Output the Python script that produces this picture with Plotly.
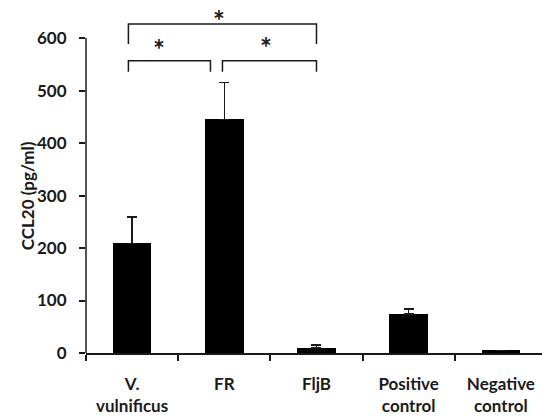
import plotly.graph_objects as go

categories = ["V.<br>vulnificus", "FR", "FljB", "Positive<br>control", "Negative<br>control"]
values = [209, 445, 10, 74, 5]
errors = [50, 70, 5, 10, 0]
y_ticks = [0, 100, 200, 300, 400, 500, 600]

# significance brackets: (x start, x end, y of bar, y of legs end)
br_x0 = [-0.04, -0.04, 0.98]
br_x1 = [2.0, 0.85, 2.0]
br_top = [627, 557, 557]
br_leg = [589, 536, 536]
star_x = [0.94, 0.29, 1.45]
star_y = [635, 579, 584]

FONT = "Lato"
INK = "#1a1a1a"

fig = go.Figure()
fig.add_trace(go.Bar(
    x=categories, y=values, width=0.42,
    marker=dict(color="black", line=dict(width=0)),
    error_y=dict(type="data", array=errors, arrayminus=[0]*len(errors), symmetric=False,
                 color=INK, thickness=1.5, width=5),
))

shapes = []
# y axis line 0..600
shapes.append(dict(type="line", xref="paper", yref="y", x0=0, x1=0, y0=0, y1=y_ticks[-1],
                   line=dict(color=INK, width=1.5)))
for a, b, t, l in zip(br_x0, br_x1, br_top, br_leg):
    shapes.append(dict(type="path", xref="x", yref="y",
                       path=f"M {a},{l} L {a},{t} L {b},{t} L {b},{l}",
                       line=dict(color=INK, width=1.5)))

annotations = []
for sx, sy in zip(star_x, star_y):
    annotations.append(dict(x=sx, y=sy, xref="x", yref="y", text="<b>*</b>", showarrow=False,
                            font=dict(family=FONT, size=28, color=INK), yanchor="middle"))
annotations.append(dict(x=-0.128, y=300, xref="paper", yref="y", text="<b>CCL20 (pg/ml)</b>",
                        textangle=-90, showarrow=False, xanchor="center", yanchor="middle",
                        font=dict(family=FONT, size=17, color=INK)))

fig.update_layout(
    width=542, height=417,
    margin=dict(l=86, r=0, t=4, b=64),
    plot_bgcolor="white", paper_bgcolor="white",
    showlegend=False, bargap=0,
    shapes=shapes, annotations=annotations,
    font=dict(family=FONT, color=INK),
)
fig.update_xaxes(
    type="category", range=[-0.5, 4.446], tickson="boundaries",
    tickmode="array", tickvals=categories,
    ticktext=[f"<b>{c}</b>" for c in categories],
    showline=True, linecolor=INK, linewidth=1.5,
    ticks="outside", ticklen=6, tickcolor=INK, tickwidth=1.5,
    showgrid=False, zeroline=False,
    tickfont=dict(family=FONT, size=17, color=INK),
    ticklabelstandoff=15,
)
fig.update_yaxes(
    range=[0, 665], tickmode="array", tickvals=y_ticks,
    ticktext=[f"<b>{v}</b>" for v in y_ticks],
    showline=False, ticks="outside", ticklen=6, tickcolor=INK, tickwidth=1.5,
    showgrid=False, zeroline=False,
    tickfont=dict(family=FONT, size=17, color=INK),
    ticklabelstandoff=9,
)

fig.write_html("out.html")
